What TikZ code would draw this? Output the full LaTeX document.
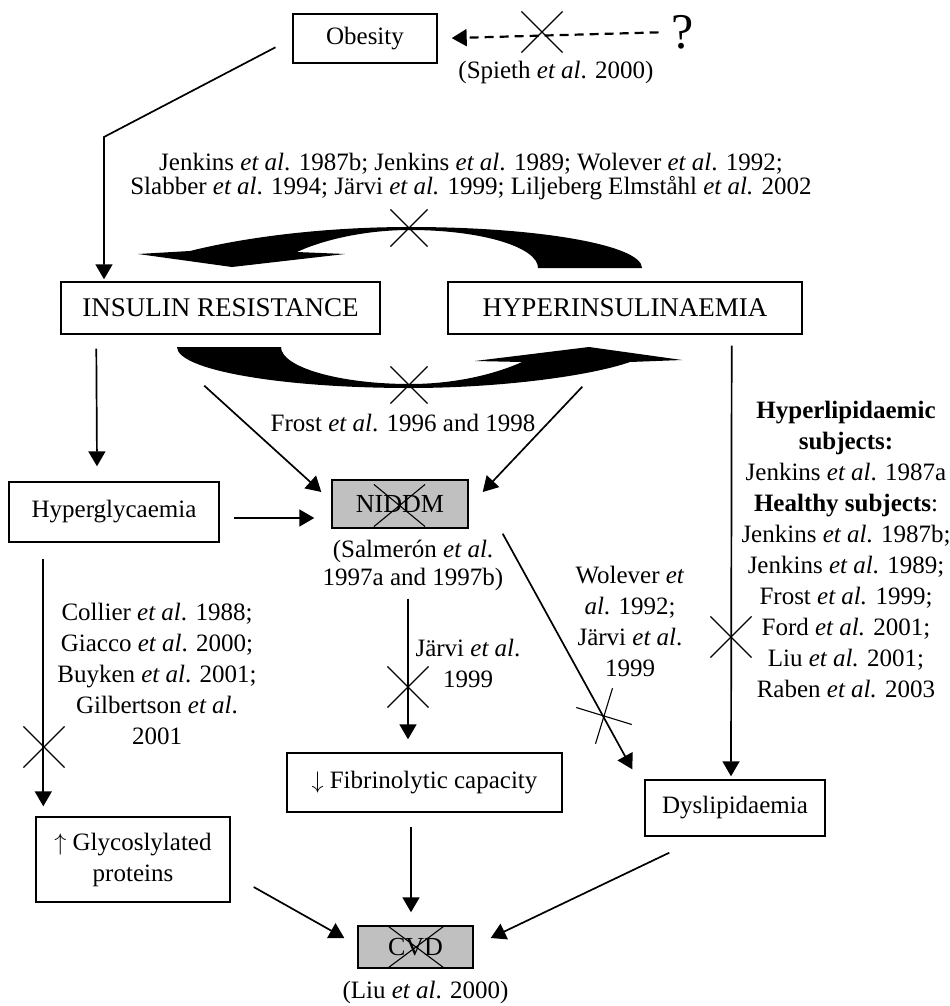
\documentclass[tikz,border=0pt]{standalone}
\usepackage{fontspec}
\setmainfont{Liberation Serif}
\usepackage{tikz}
\usetikzlibrary{arrows.meta, positioning, shapes.misc}
\definecolor{ink}{RGB}{0, 0, 0}
\definecolor{boxgray}{RGB}{192, 192, 192}

\begin{document}
\begin{tikzpicture}[
    x=0.5pt, y=-0.5pt,
    block/.style={rectangle, draw=ink, line width=0.7pt, inner sep=0pt, align=center, font=\fontsize{12.5}{15.5}\selectfont},
    bigblock/.style={block, font=\fontsize{13.5}{16}\selectfont},
    shaded/.style={block, fill=boxgray, font=\fontsize{13}{16}\selectfont},
    cite/.style={align=center, inner sep=0pt, font=\fontsize{12.5}{15.5}\selectfont},
    line/.style={draw=ink, line width=0.85pt, -{Triangle[length=7.5pt, width=8.5pt]}},
    cross/.style={cross out, draw=ink, line width=0.55pt, inner sep=0pt, minimum size=20pt},
    band/.style={fill=ink}
]
    \useasboundingbox (0,0) rectangle (949,1006);

    % Nodes
    \node [block, minimum width=72pt, minimum height=24.5pt] (obesity) at (365,38.5) {Obesity};
    \node [bigblock, minimum width=159.5pt, minimum height=26pt] (insres) at (220.5,308) {INSULIN RESISTANCE};
    \node [bigblock, minimum width=177pt, minimum height=26pt] (hyperins) at (625,308) {HYPERINSULINAEMIA};
    \node [block, minimum width=105pt, minimum height=30pt] (hyperglyc) at (114,512) {Hyperglycaemia};
    \node [shaded, minimum width=68pt, minimum height=24pt] (niddm) at (400,504) {NIDDM};
    \node [block, minimum width=137.5pt, minimum height=29.5pt] (fibrin) at (424.5,782.5) {$\downarrow$ Fibrinolytic capacity};
    \node [block, minimum width=90pt, minimum height=28pt] (dyslip) at (735,808) {Dyslipidaemia};
    \node [block, minimum width=97pt, minimum height=42.5pt] (glyco) at (133,859.5) {$\uparrow$ Glycoslylated\\proteins};
    \node [shaded, minimum width=57.5pt, minimum height=21pt] (cvd) at (415.5,947) {CVD};

    % Labels
    \node [font=\fontsize{25}{25}\selectfont, inner sep=0pt] (query) at (683,32) {?};
    \node [cite] (spieth) at (556,72) {(Spieth \textit{et al}. 2000)};
    \node [cite, font=\fontsize{12.5}{12}\selectfont] (loopcites) at (471,177) {Jenkins \textit{et al}. 1987b; Jenkins \textit{et al}. 1989; Wolever \textit{et al}. 1992;\\Slabber \textit{et al}. 1994; Järvi \textit{et al.} 1999; Liljeberg Elmståhl \textit{et al.} 2002};
    \node [cite] (frost) at (403,423) {Frost \textit{et al}. 1996 and 1998};
    \node [cite, font=\fontsize{12.5}{14}\selectfont] (salmeron) at (413,565) {(Salmerón \textit{et al}.\\1997a and 1997b)};
    \node [cite] (jarvi) at (468,663) {Järvi \textit{et al}.\\1999};
    \node [cite] (wolever) at (630,621) {Wolever \textit{et}\\\textit{al}. 1992;\\Järvi \textit{et al}.\\1999};
    \node [cite] (collier) at (157,674) {Collier \textit{et al}. 1988;\\Giacco \textit{et al}. 2000;\\Buyken \textit{et al}. 2001;\\Gilbertson \textit{et al}.\\2001};
    \node [cite] (lipids) at (846,549) {\textbf{Hyperlipidaemic}\\\textbf{subjects:}\\Jenkins \textit{et al}. 1987a\\\textbf{Healthy subjects}:\\Jenkins \textit{et al}. 1987b;\\Jenkins \textit{et al}. 1989;\\Frost \textit{et al.} 1999;\\Ford \textit{et al.} 2001;\\Liu \textit{et al.} 2001;\\Raben \textit{et al.} 2003};
    \node [cite, below=6pt of cvd, xshift=5pt] (liu) {(Liu \textit{et al}. 2000)};

    % Curved block arrows
    \fill [band] (642,268) -- (538,268)
        .. controls (538,247) and (481,230) .. (410,230)
        .. controls (360,230) and (318,242) .. (297,252)
        -- (345,254) -- (232,267) -- (138,254) -- (190,251)
        .. controls (250,236) and (330,227) .. (410,227)
        .. controls (538,227) and (642,245) .. (642,268) -- cycle;
    \fill [band] (177,347) -- (281,347)
        .. controls (281,367) and (339,384) .. (410,384)
        .. controls (460,384) and (500,372) .. (522,362)
        -- (475,361) -- (589,347) -- (682,360) -- (630,362)
        .. controls (590,376) and (500,388) .. (410,388)
        .. controls (281,388) and (177,370) .. (177,347) -- cycle;

    % Paths
    \coordinate (obend) at (104,137);
    \path [line, shorten <=9.5pt, shorten >=1pt] (obesity.west) -- (obend) -- (obend |- insres.north);
    \path [line, line width=1.1pt, dash pattern=on 4.5pt off 3pt, shorten <=6.5pt, shorten >=7pt] (query.west) -- (obesity.east);
    \path [line] ([shift={(36,14)}]insres.south west) -- ([shift={(-17,-15)}]hyperglyc.north);
    \path [line] ([shift={(144,51)}]insres.south west) -- ([shift={(-10,-12)}]niddm.west);
    \path [line] ([shift={(135,52)}]hyperins.south west) -- ([shift={(14,-12)}]niddm.east);
    \path [line] ([shift={(14,6)}]hyperglyc.east) -- ([shift={(-17,14)}]niddm.west);
    \path [line] ([shift={(8,70)}]niddm.south) -- ([shift={(-16.5,-13)}]fibrin.north);
    \path [line] ([shift={(34,5)}]niddm.south east) -- ([shift={(-12,-10)}]dyslip.north west);
    \path [line] ([shift={(-71,11)}]hyperins.south east) -- ([shift={(-4,-3)}]dyslip.north);
    \path [line] ([shift={(35,16)}]hyperglyc.south west) -- ([shift={(8,-10)}]glyco.north west);
    \path [line] ([shift={(23,27.5)}]glyco.east) -- ([shift={(-13,-9)}]cvd.west);
    \path [line] ([shift={(-13.5,14)}]fibrin.south) -- ([shift={(-4.5,-13)}]cvd.north);
    \path [line] ([shift={(25,16)}]dyslip.south west) -- ([shift={(17,-9)}]cvd.east);

    % Crossed-out links
    \node [cross] (xquery) at (542,32) {};
    \node [cross, minimum size=18pt] (xtop) at (409,228) {};
    \node [cross, minimum size=18pt] (xbottom) at (409,385) {};
    \node [cross, minimum width=25pt, minimum height=20.5pt] (xniddm) at (399.5,505.5) {};
    \node [cross] (xcollier) at (44,747) {};
    \node [cross] (xjarvi) at (408,687) {};
    \node [cross, rotate=28] (xdyslip) at (604,716) {};
    \node [cross] (xlipids) at (731,637) {};
    \node [cross, minimum width=27pt, minimum height=20pt] (xcvd) at (416,947) {};

\end{tikzpicture}
\end{document}
